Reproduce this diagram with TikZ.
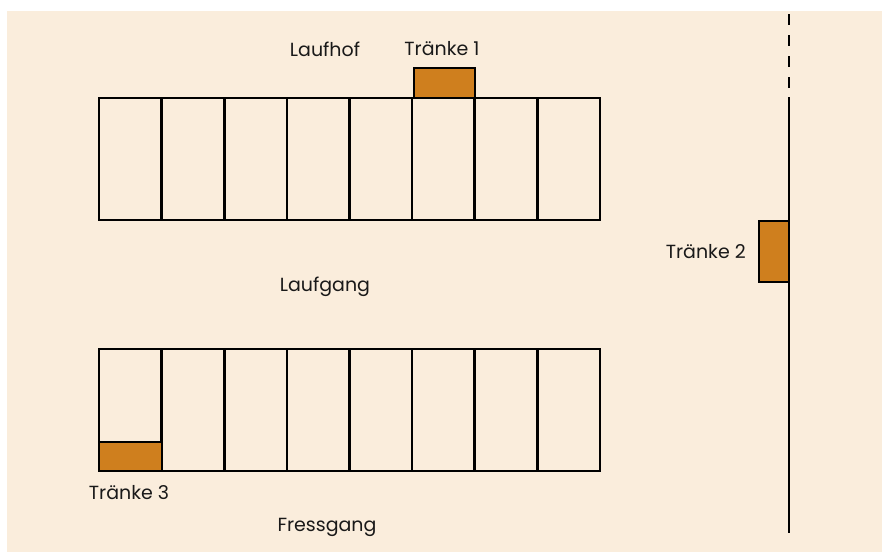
\documentclass[tikz,border=0pt]{standalone}
\usepackage{fontspec}
\setmainfont{Poppins}
\definecolor{bgbeige}{HTML}{FAEDDC}
\definecolor{trough}{HTML}{CF7F1E}
\begin{document}
\begin{tikzpicture}[x=1pt,y=-1pt,
  wall/.style={draw=black,line width=2.6pt},
  troughbox/.style={draw=black,line width=2.6pt,fill=trough},
  lbl/.style={font=\fontsize{19}{22}\selectfont,inner sep=0pt,text=black!90}]
\useasboundingbox (0,0) rectangle (882,552);
\fill[bgbeige] (7,11) rectangle (882,552);
% upper stall block
\foreach \i in {0,...,7} {
  \draw[wall] ({99+\i*62.625},98) rectangle ({99+(\i+1)*62.625},220);
}
% lower stall block
\foreach \i in {0,...,7} {
  \draw[wall] ({99+\i*62.625},349) rectangle ({99+(\i+1)*62.625},471);
}
% troughs
\draw[troughbox] (414,68) rectangle (475,98);
\draw[troughbox] (99,442) rectangle (162,471);
\draw[troughbox] (759,221) rectangle (789,282);
% fence line
\coordinate (ftop) at (789,14);
\coordinate (fmid) at (789,90);
\coordinate (fsol) at (789,97);
\coordinate (fbot) at (789,533);
\draw[line width=2.6pt,dash pattern=on 11pt off 10pt] (ftop) -- (fmid);
\draw[line width=2.6pt] (fsol) -- (fbot);
% labels
\node[lbl] (laufhof) at (325,49) {Laufhof};
\node[lbl] (t1) at (442,49) {Tränke 1};
\node[lbl,anchor=east] (t2) at (746,252) {Tränke 2};
\node[lbl] (laufgang) at (325,287) {Laufgang};
\node[lbl] (t3) at (129,493) {Tränke 3};
\node[lbl] (fressgang) at (327,527) {Fressgang};
\end{tikzpicture}
\end{document}
